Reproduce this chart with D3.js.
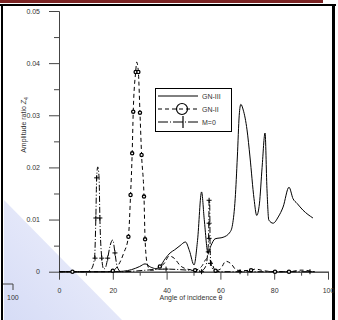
<!DOCTYPE html>
<html>
<head>
<meta charset="utf-8">
<script src="https://cdn.jsdelivr.net/npm/d3@7"></script>
<style>
  html, body { margin: 0; padding: 0; background: #fff; }
  svg { display: block; font-family: "Liberation Sans", Arial, sans-serif; }
</style>
</head>
<body>
<svg width="338" height="320"></svg>
<script>
// ---- data: [angle, amplitude] ----
var gn3 = [[0,0],[20,0],[24,0.0001],[27,0.0004],[30,0.001],[32,0.0015],[34,0.0009],[36,0.0006],
           [37.5,0.001],[39.5,0.0025],[41.3,0.0036],[43,0.0042],[45,0.005],[47,0.0057],[48.5,0.004],
           [50.2,0.0013],[51.5,0.006],[53,0.0153],[54,0.01],[55.4,0.0036],[56.5,0.005],[58,0.0063],
           [61,0.0066],[63.6,0.0076],[64.5,0.009],[65.5,0.014],[66.3,0.022],[67,0.030],[67.6,0.0321],
           [68.5,0.031],[69.9,0.0272],[71,0.022],[72.5,0.014],[73.5,0.0108],[74.5,0.013],[75.5,0.020],
           [76.6,0.0266],[77.3,0.016],[78,0.0099],[79.6,0.0093],[81.5,0.0105],[83.3,0.0124],[85.5,0.0162],
           [87,0.014],[88.5,0.0131],[90.7,0.0118],[94.4,0.0103]];

var gn2 = [[0,0],[18,0],[20,0.0002],[22,0.0012],[24,0.0035],[25.8,0.0067],[26.6,0.0147],[27.2,0.0227],
           [27.6,0.0307],[28.5,0.0383],[28.9,0.0402],[29.5,0.0383],[30.1,0.0305],[30.7,0.0224],
           [31.6,0.0144],[32,0.0062],[32.8,0.0015],[34,0.0003],[36,0.0003],[37.5,0.001],[39,0.0015],
           [41,0.003],[43,0.0025],[45,0.0012],[47,0.0006],[50.6,0.0003],[53,0.001],[55,0.0025],
           [56.5,0.002],[58.2,0.0002],[60,0.0005],[62,0.002],[64,0.0015],[66,0.0003],[68,0.0002],
           [71.4,0.0003],[73,0.0005],[76,0.0002],[80.3,0],[85.5,0],[90,0.0003],[95,0]];
var gn2Marks = [[5,0],[20,0.0002],[25.8,0.0067],[26.6,0.0147],[27.2,0.0227],[27.6,0.0307],[28.5,0.0383],
                [29.5,0.0383],[30.1,0.0305],[30.7,0.0224],[31.6,0.0144],[32,0.0062],[37.5,0.001],
                [50.6,0.0003],[58.2,0.0002],[71.4,0.0003],[80.3,0],[85.5,0]];

var m0 = [[0,0],[10,0],[12,0.0005],[13.2,0.0026],[13.7,0.0103],[14,0.018],[14.4,0.0201],[14.9,0.018],
          [15.2,0.0103],[15.9,0.0026],[16.6,0.0005],[17.3,0.0008],[18.1,0.0026],[19,0.005],[20,0.0061],
          [20.8,0.0036],[21.6,0.001],[23,0],[39.8,0.0005],[53,0.0002],[54.5,0.001],[55.3,0.0038],
          [55.6,0.0064],[55.7,0.0093],[55.8,0.0137],[56,0.0137],[56.2,0.004],[56.5,0.0016],
          [57.5,0.0003],[60,0],[95,0]];
var m0Marks = [[14,0.018],[13.7,0.0103],[15.2,0.0103],[13.4,0.0026],[15.9,0.0026],[18.1,0.0026],
               [20.8,0.0036],[39.8,0.0005],[53,0],[55.5,0.0038],[55.8,0.0064],[55.8,0.0093],
               [55.8,0.0137],[56.3,0.0016],[67.3,0],[93.3,0]];

var yMajor = [0, 0.01, 0.02, 0.03, 0.04, 0.05];
var yMinor = [0.005, 0.015, 0.025, 0.035, 0.045];
var xMajor = [0, 20, 40, 60, 80, 100];
var xMinor = [10, 30, 50, 70, 90];
var legendNames = ["GN-III", "GN-II", "M=0"];

var svg = d3.select("svg");

// page decoration from the scan
var defs = svg.append("defs");
var grad = defs.append("linearGradient").attr("id", "blueish")
    .attr("x1", "0").attr("y1", "1").attr("x2", "1").attr("y2", "0");
grad.append("stop").attr("offset", "0").attr("stop-color", "#d6dcf6");
grad.append("stop").attr("offset", "1").attr("stop-color", "#f1f2fc");
svg.append("path").attr("d", "M4,200 L4,320 L122,320 Z").attr("fill", "url(#blueish)");

svg.append("rect").attr("x", 0).attr("y", 0).attr("width", 323).attr("height", 3).attr("fill", "#7b2323");
svg.append("rect").attr("x", 0).attr("y", 4).attr("width", 336).attr("height", 2).attr("fill", "#000");
svg.append("rect").attr("x", 1).attr("y", 4).attr("width", 2).attr("height", 316).attr("fill", "#000");
svg.append("rect").attr("x", 332).attr("y", 4).attr("width", 3).attr("height", 316).attr("fill", "#000");

// stray piece of a neighbouring axis
svg.append("path").attr("d", "M3,284 H13 V290").attr("fill", "none").attr("stroke", "#444");
svg.append("text").attr("x", 7).attr("y", 300).attr("font-size", 7).attr("fill", "#333").text("100");

var x = d3.scaleLinear().domain([0, 100]).range([59, 328]);
var y = d3.scaleLinear().domain([0, 0.05]).range([271.7, 11]);

function styleAxis(g) {
  g.selectAll("path, line").attr("stroke", "#444");
  g.selectAll("text").attr("font-size", 7).attr("fill", "#333")
    .attr("font-family", "Liberation Sans, Arial, sans-serif");
}

svg.append("g").attr("transform", "translate(59,0)")
  .call(d3.axisLeft(y).tickValues(yMinor).tickSize(5).tickSizeOuter(0).tickFormat(""))
  .call(styleAxis);
svg.append("g").attr("transform", "translate(59,0)")
  .call(d3.axisLeft(y).tickValues(yMajor).tickSize(10).tickSizeOuter(0).tickPadding(9)
    .tickFormat(function (d) { return d === 0 ? "0" : d3.format(".2f")(d); }))
  .call(styleAxis);

svg.append("g").attr("transform", "translate(0,271.7)")
  .call(d3.axisBottom(x).tickValues(xMinor).tickSize(4).tickSizeOuter(0).tickFormat(""))
  .call(styleAxis);
svg.append("g").attr("transform", "translate(0,271.7)")
  .call(d3.axisBottom(x).tickValues(xMajor).tickSize(8).tickSizeOuter(0).tickPadding(8))
  .call(styleAxis);

svg.append("text").attr("x", 191).attr("y", 300).attr("text-anchor", "middle")
  .attr("font-size", 7).attr("fill", "#333").text("Angle of incidence θ");

var yt = svg.append("text").attr("transform", "translate(26,125) rotate(-90)")
  .attr("text-anchor", "middle").attr("font-size", 7).attr("fill", "#333");
yt.append("tspan").text("Amplitude ratio ");
yt.append("tspan").attr("font-style", "italic").text("Z");
yt.append("tspan").attr("font-size", 5).attr("dy", 2).text("4");

var line = d3.line().x(function (d) { return x(d[0]); }).y(function (d) { return y(d[1]); })
  .curve(d3.curveMonotoneX);

svg.append("path").datum(gn3).attr("d", line).attr("fill", "none").attr("stroke", "#000").attr("stroke-width", 1);
svg.append("path").datum(gn2).attr("d", line).attr("fill", "none").attr("stroke", "#000")
  .attr("stroke-width", 1).attr("stroke-dasharray", "4,3");
svg.append("path").datum(m0).attr("d", line).attr("fill", "none").attr("stroke", "#000")
  .attr("stroke-width", 1).attr("stroke-dasharray", "6,2,1,2");

svg.selectAll(".c").data(gn2Marks).enter().append("circle")
  .attr("cx", function (d) { return x(d[0]); }).attr("cy", function (d) { return y(d[1]); })
  .attr("r", 1.6).attr("fill", "#fff").attr("stroke", "#000").attr("stroke-width", 1.3);

svg.selectAll(".p").data(m0Marks).enter().append("path")
  .attr("d", function (d) {
    var cx = x(d[0]), cy = y(d[1]);
    return "M" + (cx - 2.5) + "," + cy + "H" + (cx + 2.5) + "M" + cx + "," + (cy - 2.5) + "V" + (cy + 2.5);
  })
  .attr("stroke", "#000").attr("stroke-width", 1);

// legend
var lg = svg.append("g");
lg.append("rect").attr("x", 155.5).attr("y", 88.5).attr("width", 76).attr("height", 43)
  .attr("fill", "#fff").attr("stroke", "#000").attr("stroke-width", 1);
var rowY = [96, 109, 122];
var dashes = [null, "4,3", "10,2,1,2"];
legendNames.forEach(function (name, i) {
  lg.append("line").attr("x1", 158).attr("x2", 198).attr("y1", rowY[i]).attr("y2", rowY[i])
    .attr("stroke", "#000").attr("stroke-width", 1).attr("stroke-dasharray", dashes[i]);
  lg.append("text").attr("x", 202).attr("y", rowY[i] + 2.5).attr("font-size", 7).attr("fill", "#333").text(name);
});
lg.append("circle").attr("cx", 182).attr("cy", rowY[1]).attr("r", 5.5).attr("fill", "none")
  .attr("stroke", "#000").attr("stroke-width", 1.2);
lg.append("path").attr("d", "M183," + (rowY[2] - 6) + "V" + (rowY[2] + 6))
  .attr("stroke", "#000").attr("stroke-width", 1.2);
</script>
</body>
</html>
